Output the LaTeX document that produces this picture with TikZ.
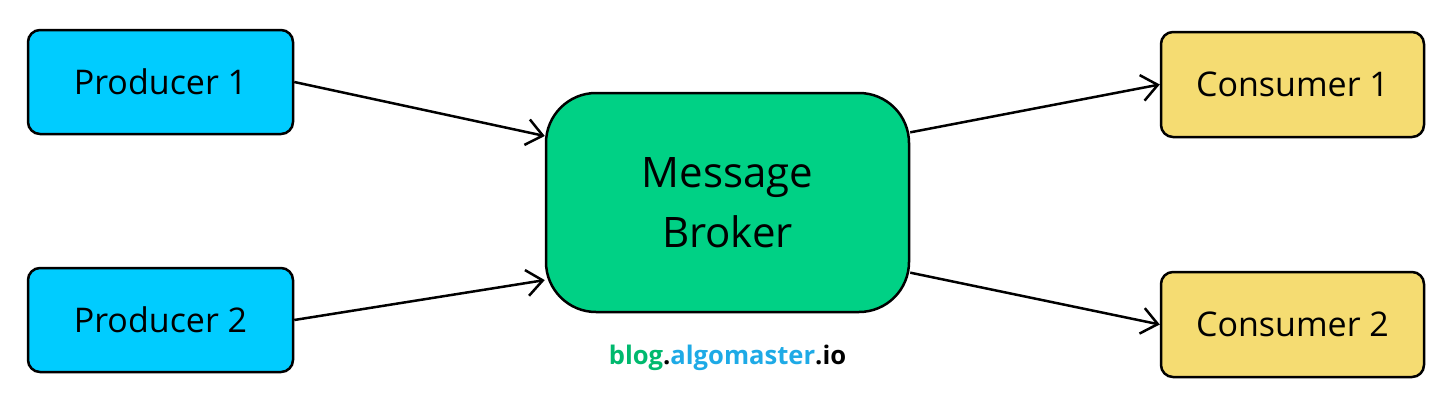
\documentclass[tikz,border=0pt]{standalone}
\usepackage{fontspec}
\setmainfont{Open Sans}
\usepackage{tikz}
\usetikzlibrary{arrows.meta}
\definecolor{prod-blue}{HTML}{00CCFF}
\definecolor{broker-green}{HTML}{00D185}
\definecolor{cons-yellow}{HTML}{F5DC72}
\definecolor{wm-green}{HTML}{00B96E}
\definecolor{wm-blue}{HTML}{1EAAE6}

\begin{document}
\begin{tikzpicture}[x=0.5pt,y=-0.5pt,
		box/.style={draw=black,line width=1.25pt,rounded corners=6pt,font=\fontsize{17}{20}\selectfont},
		prodbox/.style={box,fill=prod-blue,minimum width=132.5pt,minimum height=52pt},
		consbox/.style={box,fill=cons-yellow,minimum width=131.5pt,minimum height=52.5pt},
		brokerbox/.style={box,fill=broker-green,rounded corners=25pt,minimum width=181.5pt,minimum height=109.5pt,align=center,font=\fontsize{21}{30}\selectfont},
		flow/.style={line width=1.25pt,-{Straight Barb[length=8pt,width=13pt,line width=1.25pt]}}]
				\useasboundingbox (0,0) rectangle (1456,407);
				\node [prodbox] (p1) at (160.5,82) {Producer 1};
				\node [prodbox] (p2) at (160.5,320) {Producer 2};
				\node [brokerbox] (broker) at (727.5,202.5) {Message\\Broker};
				\node [consbox] (c1) at (1292.5,84.5) {Consumer 1};
				\node [consbox] (c2) at (1292.5,324.5) {Consumer 2};
				\draw [flow] (p1.east) -- (broker.160);
				\draw [flow] (p2.east) -- (broker.203);
				\draw [flow] (broker.21) -- (c1.west);
				\draw [flow] (broker.339) -- (c2.west);
				\node [font=\fontsize{12.8}{15}\selectfont\bfseries] (site) at (727.5,358)
					{\textcolor{wm-green}{blog}.\textcolor{wm-blue}{algomaster}.io};
\end{tikzpicture}
\end{document}
